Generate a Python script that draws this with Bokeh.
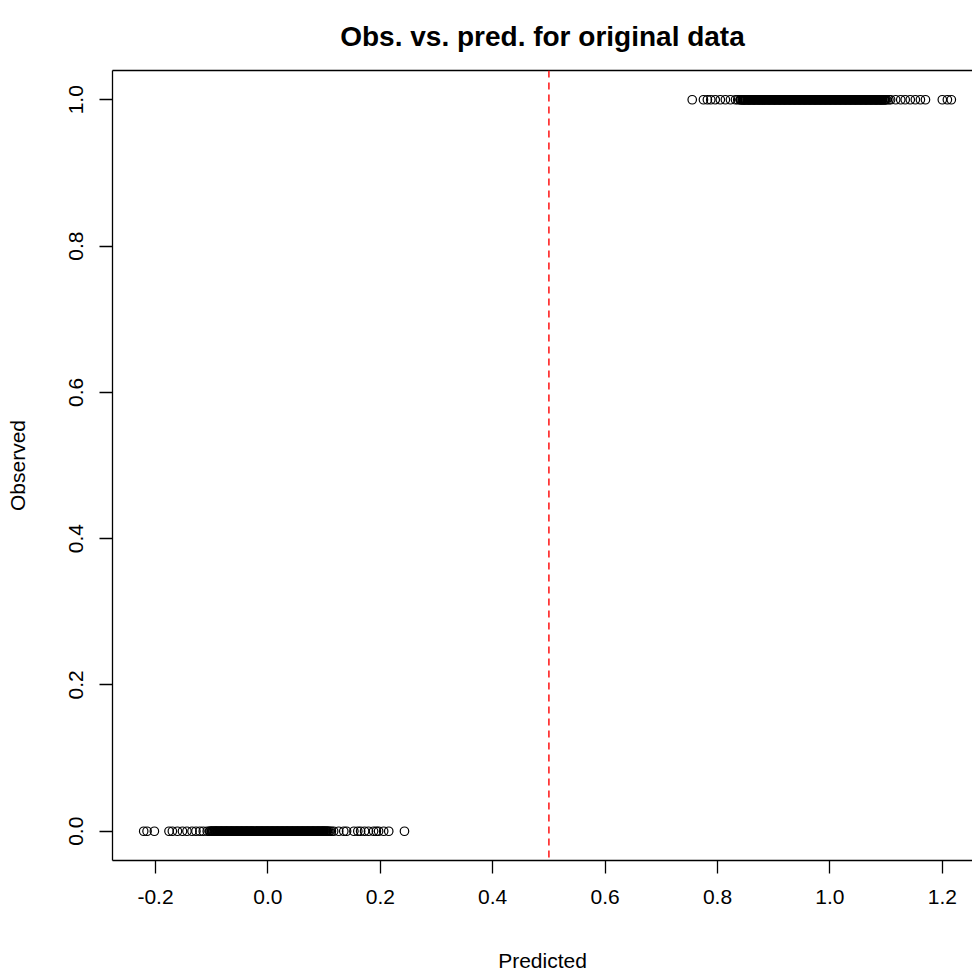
from bokeh.plotting import figure
from bokeh.models import Range1d, FixedTicker, PrintfTickFormatter, LinearAxis, Span
from bokeh.embed import file_html
from bokeh.resources import INLINE

# Predicted values for observations with observed = 0
pred_neg = [-0.221, -0.215, -0.202, -0.176, -0.170, -0.161, -0.152, -0.144, -0.135,
            -0.128, -0.121, -0.115, -0.108,
            -0.104, -0.103, -0.101, -0.100, -0.099, -0.098, -0.097, -0.095, -0.094,
            -0.093, -0.092, -0.091, -0.090, -0.089, -0.088, -0.086, -0.085, -0.084,
            -0.083, -0.082, -0.081, -0.080, -0.079, -0.077, -0.076, -0.075, -0.074,
            -0.073, -0.072, -0.071, -0.070, -0.068, -0.067, -0.066, -0.065, -0.064,
            -0.063, -0.062, -0.061, -0.059, -0.058, -0.057, -0.056, -0.055, -0.054,
            -0.053, -0.052, -0.050, -0.049, -0.048, -0.047, -0.046, -0.045, -0.044,
            -0.043, -0.041, -0.040, -0.039, -0.038, -0.037, -0.036, -0.035, -0.034,
            -0.032, -0.031, -0.030, -0.029, -0.028, -0.027, -0.026, -0.025, -0.023,
            -0.022, -0.021, -0.020, -0.019, -0.018, -0.017, -0.016, -0.014, -0.013,
            -0.012, -0.011, -0.010, -0.009, -0.008, -0.007, -0.005, -0.004, -0.003,
            -0.002, -0.001, 0.000, 0.001, 0.002, 0.004, 0.005, 0.006, 0.007, 0.008,
            0.009, 0.010, 0.011, 0.013, 0.014, 0.015, 0.016, 0.017, 0.018, 0.019,
            0.020, 0.022, 0.023, 0.024, 0.025, 0.026, 0.027, 0.028, 0.029, 0.031,
            0.032, 0.033, 0.034, 0.035, 0.036, 0.037, 0.038, 0.040, 0.041, 0.042,
            0.043, 0.044, 0.045, 0.046, 0.047, 0.049, 0.050, 0.051, 0.052, 0.053,
            0.054, 0.055, 0.056, 0.058, 0.059, 0.060, 0.061, 0.062, 0.063, 0.064,
            0.065, 0.067, 0.068, 0.069, 0.070, 0.071, 0.072, 0.073, 0.074, 0.076,
            0.077, 0.078, 0.079, 0.080, 0.081, 0.082, 0.083, 0.085, 0.086, 0.087,
            0.088, 0.089, 0.090, 0.091, 0.092, 0.094, 0.095, 0.096, 0.097, 0.098,
            0.099, 0.100, 0.101, 0.103, 0.104, 0.105, 0.106, 0.108, 0.110,
            0.113, 0.117, 0.126, 0.135, 0.140, 0.153, 0.160, 0.165, 0.172,
            0.179, 0.188, 0.193, 0.197, 0.206, 0.215, 0.243]
# Predicted values for observations with observed = 1
pred_pos = [0.755, 0.775, 0.782, 0.788, 0.796, 0.805, 0.814, 0.823, 0.832, 0.836,
            0.840, 0.841, 0.842, 0.844, 0.845, 0.846, 0.847, 0.848, 0.849, 0.850,
            0.851, 0.853, 0.854, 0.855, 0.856, 0.857, 0.858, 0.859, 0.860, 0.862,
            0.863, 0.864, 0.865, 0.866, 0.867, 0.868, 0.869, 0.871, 0.872, 0.873,
            0.874, 0.875, 0.876, 0.877, 0.878, 0.880, 0.881, 0.882, 0.883, 0.884,
            0.885, 0.886, 0.887, 0.889, 0.890, 0.891, 0.892, 0.893, 0.894, 0.895,
            0.896, 0.898, 0.899, 0.900, 0.901, 0.902, 0.903, 0.904, 0.905, 0.907,
            0.908, 0.909, 0.910, 0.911, 0.912, 0.913, 0.914, 0.916, 0.917, 0.918,
            0.919, 0.920, 0.921, 0.922, 0.923, 0.925, 0.926, 0.927, 0.928, 0.929,
            0.930, 0.931, 0.932, 0.934, 0.935, 0.936, 0.937, 0.938, 0.939, 0.940,
            0.941, 0.943, 0.944, 0.945, 0.946, 0.947, 0.948, 0.949, 0.950, 0.952,
            0.953, 0.954, 0.955, 0.956, 0.957, 0.958, 0.959, 0.961, 0.962, 0.963,
            0.964, 0.965, 0.966, 0.967, 0.968, 0.970, 0.971, 0.972, 0.973, 0.974,
            0.975, 0.976, 0.977, 0.979, 0.980, 0.981, 0.982, 0.983, 0.984, 0.985,
            0.986, 0.988, 0.989, 0.990, 0.991, 0.992, 0.993, 0.994, 0.995, 0.997,
            0.998, 0.999, 1.000, 1.001, 1.002, 1.003, 1.004, 1.006, 1.007, 1.008,
            1.009, 1.010, 1.011, 1.012, 1.013, 1.015, 1.016, 1.017, 1.018, 1.019,
            1.020, 1.021, 1.022, 1.024, 1.025, 1.026, 1.027, 1.028, 1.029, 1.030,
            1.031, 1.033, 1.034, 1.035, 1.036, 1.037, 1.038, 1.039, 1.040, 1.042,
            1.043, 1.044, 1.045, 1.046, 1.047, 1.048, 1.049, 1.051, 1.052, 1.053,
            1.054, 1.055, 1.056, 1.057, 1.058, 1.060, 1.061, 1.062, 1.063, 1.064,
            1.065, 1.066, 1.067, 1.069, 1.070, 1.071, 1.072, 1.073, 1.074, 1.075,
            1.076, 1.078, 1.079, 1.080, 1.081, 1.082, 1.083, 1.084, 1.085, 1.087,
            1.088, 1.089, 1.090, 1.091, 1.092, 1.093, 1.094, 1.096, 1.097, 1.098,
            1.099, 1.101, 1.105, 1.108, 1.117, 1.126, 1.134, 1.143, 1.152, 1.161,
            1.170, 1.200, 1.209, 1.216]
threshold = 0.5
x_ticks = [-0.2, 0.0, 0.2, 0.4, 0.6, 0.8, 1.0, 1.2]
y_ticks = [0.0, 0.2, 0.4, 0.6, 0.8, 1.0]

xs = pred_neg + pred_pos
ys = [0.0] * len(pred_neg) + [1.0] * len(pred_pos)

FONT = "Liberation Sans"

p = figure(width=972, height=974, output_backend="svg", toolbar_location=None,
           x_range=Range1d(-0.2765, 1.2537), y_range=Range1d(-0.04, 1.04),
           min_border_left=112, min_border_right=0, min_border_top=70,
           min_border_bottom=113, title="Obs. vs. pred. for original data")
p.outline_line_color = None
p.xgrid.visible = False
p.ygrid.visible = False
p.background_fill_color = "white"
p.border_fill_color = "white"

p.title.text_font = FONT
p.title.text_font_size = "28px"
p.title.text_font_style = "bold"
p.title.text_color = "black"
p.title.align = "center"
p.title.vertical_align = "top"
p.title.standoff = 34

for ax, ticks in ((p.xaxis[0], x_ticks), (p.yaxis[0], y_ticks)):
    ax.ticker = FixedTicker(ticks=ticks)
    ax.formatter = PrintfTickFormatter(format="%.1f")
    ax.minor_tick_line_color = None
    ax.major_tick_in = 0
    ax.major_tick_out = 13
    ax.major_tick_line_color = "black"
    ax.major_tick_line_width = 1.3
    ax.axis_line_color = "black"
    ax.axis_line_width = 1.3
    ax.major_label_text_font = FONT
    ax.major_label_text_font_size = "21px"
    ax.major_label_text_color = "black"
    ax.axis_label_text_font = FONT
    ax.axis_label_text_font_size = "21px"
    ax.axis_label_text_font_style = "normal"
    ax.axis_label_text_color = "black"

p.xaxis.axis_label = "Predicted"
p.xaxis.major_label_standoff = 16
p.xaxis.axis_label_standoff = 42
p.yaxis.axis_label = "Observed"
p.yaxis.major_label_orientation = "vertical"
p.yaxis.major_label_standoff = 16
p.yaxis.axis_label_standoff = 38

top = LinearAxis(ticker=FixedTicker(ticks=[]), major_tick_out=0, major_tick_in=0,
                 minor_tick_line_color=None, major_label_text_font_size="0px",
                 axis_line_color="black", axis_line_width=1.3)
p.add_layout(top, "above")

p.scatter(xs, ys, size=8.5, marker="circle", fill_color=None,
          line_color="black", line_width=1.2)

p.add_layout(Span(location=threshold, dimension="height", line_color="#FF2020",
                  line_dash="7 5", line_width=1.6))

open("out.html", "w").write(file_html(p, INLINE))
